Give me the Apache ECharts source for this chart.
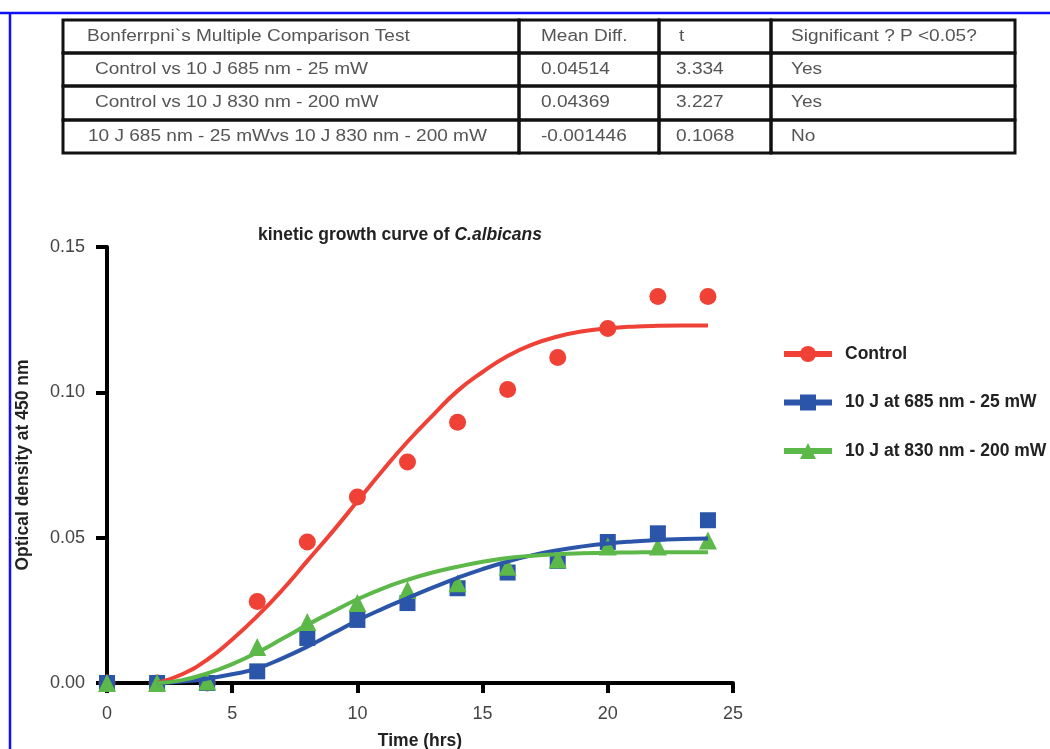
<!DOCTYPE html>
<html>
<head>
<meta charset="utf-8">
<script src="https://cdn.jsdelivr.net/npm/echarts@6/dist/echarts.min.js"></script>
<style>
html,body{margin:0;padding:0;background:#fff;}
#chart{width:1050px;height:749px;}
</style>
</head>
<body>
<div id="chart"></div>
<script>
// ---- data ----
const seriesNames = ['Control', '10 J at 685 nm - 25 mW', '10 J at 830 nm - 200 mW'];
const times = [0, 2, 4, 6, 8, 10, 12, 14, 16, 18, 20, 22, 24];
const controlValues = [0, 0, 0, 0.028, 0.0485, 0.064, 0.076, 0.0897, 0.101, 0.112, 0.122, 0.133, 0.133];
const nm685Values = [0, 0, 0, 0.004, 0.0155, 0.0217, 0.0275, 0.0326, 0.038, 0.042, 0.0485, 0.0515, 0.056];
const nm830Values = [0, 0, 0.0005, 0.0124, 0.021, 0.0275, 0.032, 0.0343, 0.040, 0.0425, 0.047, 0.047, 0.049];

const fitTimes = [2, 3, 4, 5, 6, 7, 8, 9, 10, 11, 12, 13, 14, 15, 16, 17, 18, 19, 20, 21, 22, 23, 24];
const controlFit = [0, 0.003, 0.008, 0.015, 0.023, 0.032, 0.042, 0.052, 0.0625, 0.073, 0.083, 0.092, 0.1005, 0.107, 0.1125, 0.1165, 0.1192, 0.121, 0.122, 0.1226, 0.1229, 0.123, 0.123];
const nm685Fit = [0, 0.0005, 0.0015, 0.003, 0.005, 0.0085, 0.0125, 0.017, 0.0215, 0.0255, 0.0292, 0.0328, 0.0362, 0.0392, 0.0418, 0.044, 0.0457, 0.047, 0.048, 0.0487, 0.0492, 0.0495, 0.0497];
const nm830Fit = [0, 0.001, 0.0033, 0.0065, 0.0105, 0.0152, 0.020, 0.0245, 0.0288, 0.0325, 0.0355, 0.038, 0.040, 0.0417, 0.043, 0.0438, 0.0443, 0.0446, 0.0448, 0.0449, 0.045, 0.045, 0.045];

const xTicks = [0, 5, 10, 15, 20, 25];
const yTicks = [0, 0.05, 0.10, 0.15];

const tableHeader = ['Bonferrpni`s Multiple Comparison Test', 'Mean Diff.', 't', 'Significant ? P <0.05?'];
const tableRows = [
  ['Control vs 10 J 685 nm - 25 mW', '0.04514', '3.334', 'Yes'],
  ['Control vs 10 J 830 nm - 200 mW', '0.04369', '3.227', 'Yes'],
  ['10 J 685 nm - 25 mWvs 10 J 830 nm - 200 mW', '-0.001446', '0.1068', 'No']
];

// ---- styling ----
const colors = ['#EF4136', '#2B55A8', '#5DB84A'];
const symbols = ['circle', 'rect', 'triangle'];
const symbolSizes = [17, 16, 18];
const valueSets = [controlValues, nm685Values, nm830Values];
const fitSets = [controlFit, nm685Fit, nm830Fit];
const FONT = 'Liberation Sans, Arial, sans-serif';

const series = [];
for (let i = 0; i < 3; i++) {
  series.push({
    name: seriesNames[i],
    type: 'line',
    data: fitTimes.map((t, k) => [t, fitSets[i][k]]),
    smooth: true,
    showSymbol: false,
    symbol: symbols[i],
    symbolSize: symbolSizes[i],
    itemStyle: { color: colors[i] },
    lineStyle: { color: colors[i], width: 4 },
    z: 4,
    silent: true
  });
}
for (let i = 0; i < 3; i++) {
  series.push({
    name: seriesNames[i],
    type: 'scatter',
    data: times.map((t, k) => [t, valueSets[i][k]]),
    symbol: symbols[i],
    symbolSize: symbolSizes[i],
    itemStyle: { color: colors[i], opacity: 1 },
    z: 3,
    silent: true
  });
}

// ---- table graphic ----
const colX = [63, 519, 659, 771, 1015];
const rowY = [20, 53, 86, 120, 153];
const textIndent = [[24, 22, 20, 20], [32, 22, 17, 20], [32, 22, 17, 20], [25, 22, 17, 20]];
const tableRects = [];
const tableTexts = [];
const allRows = [tableHeader].concat(tableRows);
allRows.forEach((row, r) => {
  row.forEach((cell, c) => {
    tableRects.push({
      type: 'rect',
      shape: { x: colX[c], y: rowY[r], width: colX[c + 1] - colX[c], height: rowY[r + 1] - rowY[r] },
      style: { fill: 'none', stroke: '#111', lineWidth: 3 }
    });
    tableTexts.push({
      type: 'text',
      x: colX[c] + textIndent[r][c],
      y: (rowY[r] + rowY[r + 1]) / 2,
      scaleX: 1.19,
      style: {
        text: cell,
        fill: '#555',
        font: '16px "Liberation Sans", Arial, sans-serif',
        verticalAlign: 'middle',
        align: 'left'
      }
    });
  });
});

const chart = echarts.init(document.getElementById('chart'), null, { renderer: 'canvas' });
chart.setOption({
  backgroundColor: '#fff',
  animation: false,
  title: {
    text: '{a|kinetic growth curve of }{b|C.albicans}',
    left: 253,
    top: 221,
    textStyle: {
      rich: {
        a: { fontFamily: FONT, fontWeight: 'bold', fontSize: 17.5, color: '#222' },
        b: { fontFamily: FONT, fontWeight: 'bold', fontStyle: 'italic', fontSize: 17.5, color: '#222' }
      }
    }
  },
  legend: {
    orient: 'vertical',
    left: 776,
    top: 340,
    itemWidth: 48,
    itemHeight: 20,
    itemGap: 30.5,
    data: seriesNames,
    selectedMode: false,
    lineStyle: { width: 6 },
    textStyle: { fontFamily: FONT, fontWeight: 'bold', fontSize: 17.5, color: '#222', padding: [0, 0, 0, 8] }
  },
  grid: { left: 107, right: 317, top: 247, bottom: 66, containLabel: false, outerBoundsMode: 'none' },
  xAxis: {
    type: 'value',
    min: 0, max: 25, interval: 5,
    name: 'Time (hrs)',
    nameLocation: 'middle',
    nameGap: 49,
    nameTextStyle: { fontFamily: FONT, fontWeight: 'bold', fontSize: 17.5, color: '#222' },
    axisLine: { show: true, onZero: false, lineStyle: { color: '#000', width: 4 } },
    axisTick: { show: true, length: 10, lineStyle: { color: '#000', width: 4 } },
    axisLabel: { margin: 22, fontFamily: FONT, fontSize: 18, color: '#444' },
    splitLine: { show: false }
  },
  yAxis: {
    type: 'value',
    min: 0, max: 0.15, interval: 0.05,
    name: 'Optical density at 450 nm',
    nameLocation: 'middle',
    nameGap: 75,
    nameRotate: 90,
    nameTextStyle: { fontFamily: FONT, fontWeight: 'bold', fontSize: 17.5, color: '#222' },
    axisLine: { show: true, onZero: false, lineStyle: { color: '#000', width: 4 } },
    axisTick: { show: true, length: 11, lineStyle: { color: '#000', width: 4 } },
    axisLabel: { margin: 22, fontFamily: FONT, fontSize: 18, color: '#444',
      formatter: v => v.toFixed(2) },
    splitLine: { show: false }
  },
  graphic: [
    { type: 'group', children: tableRects.concat(tableTexts) },
    { type: 'line', shape: { x1: 0, y1: 13, x2: 1050, y2: 13 }, style: { stroke: '#1010ff', lineWidth: 2.5 } },
    { type: 'line', shape: { x1: 10, y1: 12, x2: 10, y2: 749 }, style: { stroke: '#1010ff', lineWidth: 2.5 } }
  ],
  series: series
});
</script>
</body>
</html>
